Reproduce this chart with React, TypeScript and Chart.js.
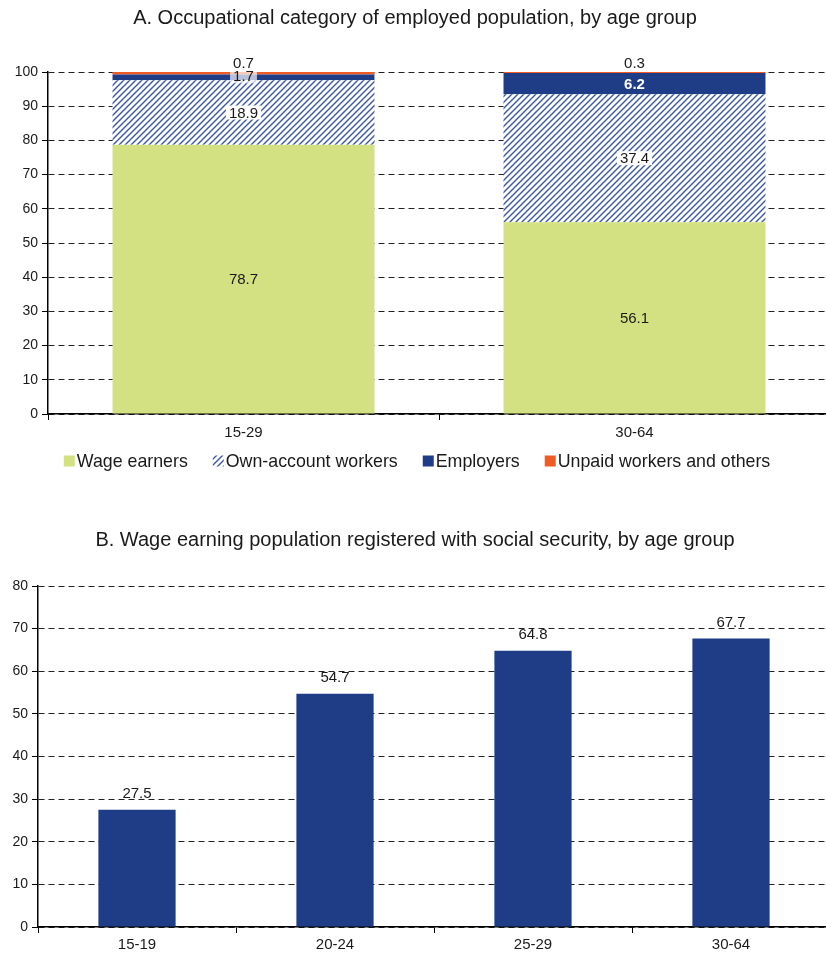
import React, { useEffect, useRef } from "react";
import { Chart, registerables } from "chart.js";
Chart.register(...registerables);

// ---------- Data ----------
const titleA = "A. Occupational category of employed population, by age group";
const ageGroupsA = ["15-29", "30-64"];
const seriesNamesA = ["Wage earners", "Own-account workers", "Employers", "Unpaid workers and others"];
const wageEarners = [78.7, 56.1];
const ownAccount = [18.9, 37.4];
const employers = [1.7, 6.2];
const unpaid = [0.7, 0.3];
const yTicksA = { min: 0, max: 100, step: 10 };

const titleB = "B. Wage earning population registered with social security, by age group";
const ageGroupsB = ["15-19", "20-24", "25-29", "30-64"];
const socialSecurity = [27.5, 54.7, 64.8, 67.7];
const yTicksB = { min: 0, max: 80, step: 10 };

// ---------- Styles ----------
const FONT = "'Liberation Sans', Arial, Helvetica, sans-serif";
const TEXT = "#1a1a1a";
const GREEN = "#d3e182";
const BLUE = "#1f3d87";
const ORANGE = "#f15a24";
const HATCH = "#3a56aa";

function makeHatch(): CanvasPattern | string {
  const c = document.createElement("canvas");
  c.width = 6;
  c.height = 6;
  const g = c.getContext("2d");
  if (!g) return HATCH;
  g.fillStyle = "#ffffff";
  g.fillRect(0, 0, 6, 6);
  g.strokeStyle = HATCH;
  g.lineWidth = 1.4;
  g.beginPath();
  g.moveTo(0, 6);
  g.lineTo(6, 0);
  g.moveTo(-1, 1);
  g.lineTo(1, -1);
  g.moveTo(5, 7);
  g.lineTo(7, 5);
  g.stroke();
  return g.createPattern(c, "repeat") || HATCH;
}

const legendPlugin = {
  id: "customLegendA",
  afterDraw(chart: any) {
    const ctx = chart.ctx as CanvasRenderingContext2D;
    ctx.save();
    ctx.font = `17.8px ${FONT}`;
    ctx.textBaseline = "middle";
    ctx.textAlign = "left";
    const box = 11;
    const gapBox = 2;
    const gapItem = 25;
    const items = chart.data.datasets.map((ds: any) => ({
      label: ds.label as string,
      color: ds.backgroundColor,
      w: ctx.measureText(ds.label).width,
    }));
    let total = 0;
    items.forEach((it: any, i: number) => {
      total += box + gapBox + it.w + (i < items.length - 1 ? gapItem : 0);
    });
    let x = 417 - total / 2;
    const y = 461;
    items.forEach((it: any) => {
      ctx.fillStyle = it.color;
      ctx.fillRect(x, y - box / 2, box, box);
      ctx.fillStyle = TEXT;
      ctx.fillText(it.label, x + box + gapBox, y + 1);
      x += box + gapBox + it.w + gapItem;
    });
    ctx.restore();
  },
};

function drawLabel(
  ctx: CanvasRenderingContext2D,
  text: string,
  x: number,
  y: number,
  color: string,
  bold: boolean,
  bg: string | null
) {
  ctx.font = `${bold ? "bold " : ""}15px ${FONT}`;
  const w = ctx.measureText(text).width;
  if (bg) {
    ctx.fillStyle = bg;
    ctx.fillRect(x - w / 2 - 3, y - 7, w + 6, 14);
  }
  ctx.fillStyle = color;
  ctx.fillText(text, x, y + 1);
}

const labelsPluginA = {
  id: "labelsA",
  afterDatasetsDraw(chart: any) {
    const ctx = chart.ctx as CanvasRenderingContext2D;
    ctx.save();
    ctx.textAlign = "center";
    ctx.textBaseline = "middle";
    chart.data.datasets.forEach((ds: any, di: number) => {
      const meta = chart.getDatasetMeta(di);
      meta.data.forEach((bar: any, i: number) => {
        const v = ds.data[i] as number;
        const { x, y, base } = bar.getProps(["x", "y", "base"], true);
        const h = Math.abs(base - y);
        const mid = (y + base) / 2;
        const t = v.toFixed(1);
        const kind = ds.labelKind;
        if (kind === "plain") drawLabel(ctx, t, x, mid, TEXT, false, null);
        else if (kind === "boxed") drawLabel(ctx, t, x, mid, TEXT, false, "#ffffff");
        else if (kind === "inside") {
          if (h > 16) drawLabel(ctx, t, x, mid, "#ffffff", true, null);
          else drawLabel(ctx, t, x, mid - 1, TEXT, false, "rgba(255,255,255,0.68)");
        } else if (kind === "above") drawLabel(ctx, t, x, Math.min(y, base) - 9, TEXT, false, null);
      });
    });
    ctx.restore();
  },
};

const labelsPluginB = {
  id: "labelsB",
  afterDatasetsDraw(chart: any) {
    const ctx = chart.ctx as CanvasRenderingContext2D;
    ctx.save();
    ctx.textAlign = "center";
    ctx.textBaseline = "middle";
    chart.data.datasets.forEach((ds: any, di: number) => {
      const meta = chart.getDatasetMeta(di);
      meta.data.forEach((bar: any, i: number) => {
        const v = ds.data[i] as number;
        const { x, y } = bar.getProps(["x", "y"], true);
        drawLabel(ctx, v.toFixed(1), x, y - 17, TEXT, false, null);
      });
    });
    ctx.restore();
  },
};

function yScale(t: { min: number; max: number; step: number }, width: number) {
  return {
    min: t.min,
    max: t.max,
    afterFit: (s: any) => {
      s.width = width;
    },
    ticks: { stepSize: t.step, color: TEXT, font: { size: 14, family: FONT }, padding: 4 },
    grid: { color: "#222222", lineWidth: 1, tickLength: 6, tickColor: "#000000", tickWidth: 1 },
    border: { display: true, color: "#000000", width: 1.5, dash: [6, 4] },
  };
}

function xScale(height: number, pad: number) {
  return {
    z: 1,
    afterFit: (s: any) => {
      s.height = height;
    },
    ticks: { color: TEXT, font: { size: 15, family: FONT }, padding: pad },
    grid: { display: true, drawOnChartArea: false, drawTicks: true, tickLength: 6, color: "#000000", offset: true },
    border: { display: true, color: "#000000", width: 1.5 },
  };
}

export default function App() {
  const refA = useRef<HTMLCanvasElement | null>(null);
  const refB = useRef<HTMLCanvasElement | null>(null);

  useEffect(() => {
    if (!refA.current || !refB.current) return;
    const hatch = makeHatch();

    const chartA = new Chart(refA.current, {
      type: "bar",
      data: {
        labels: ageGroupsA,
        datasets: [
          { label: seriesNamesA[0], data: wageEarners, backgroundColor: GREEN, labelKind: "plain" } as any,
          { label: seriesNamesA[1], data: ownAccount, backgroundColor: hatch, labelKind: "boxed" } as any,
          { label: seriesNamesA[2], data: employers, backgroundColor: BLUE, labelKind: "inside" } as any,
          { label: seriesNamesA[3], data: unpaid, backgroundColor: ORANGE, labelKind: "above" } as any,
        ],
      },
      options: {
        responsive: false,
        animation: false,
        devicePixelRatio: 1,
        layout: { padding: { top: 0, left: 0, right: 4, bottom: 0 } },
        datasets: { bar: { barPercentage: 0.67, categoryPercentage: 1, borderWidth: 0 } },
        plugins: {
          legend: { display: false },
          tooltip: { enabled: false },
          title: {
            display: true,
            text: titleA,
            color: TEXT,
            font: { size: 20, family: FONT, weight: "normal" as any, lineHeight: 1.2 },
            padding: { top: 6, bottom: 42 },
          },
        },
        scales: {
          x: { ...xScale(86, 4), stacked: true } as any,
          y: { ...yScale(yTicksA, 48), stacked: true } as any,
        },
      },
      plugins: [labelsPluginA, legendPlugin],
    });

    const chartB = new Chart(refB.current, {
      type: "bar",
      data: {
        labels: ageGroupsB,
        datasets: [
          { label: "Registered with social security", data: socialSecurity, backgroundColor: BLUE },
        ],
      },
      options: {
        responsive: false,
        animation: false,
        devicePixelRatio: 1,
        layout: { padding: { top: 0, left: 0, right: 4, bottom: 0 } },
        datasets: { bar: { barPercentage: 0.39, categoryPercentage: 1, borderWidth: 0 } },
        plugins: {
          legend: { display: false },
          tooltip: { enabled: false },
          title: {
            display: true,
            text: titleB,
            color: TEXT,
            font: { size: 20, family: FONT, weight: "normal" as any, lineHeight: 1.2 },
            padding: { top: 28, bottom: 34 },
          },
        },
        scales: {
          x: xScale(26, 3) as any,
          y: yScale(yTicksB, 38) as any,
        },
      },
      plugins: [labelsPluginB],
    });

    return () => {
      chartA.destroy();
      chartB.destroy();
    };
  }, []);

  return (
    <div
      style={{
        position: "absolute",
        left: 0,
        top: 0,
        width: 826,
        height: 953,
        overflow: "hidden",
        background: "#ffffff",
      }}
    >
      <div style={{ position: "absolute", left: 0, top: 0, width: 834, height: 500 }}>
        <canvas ref={refA} width={834} height={500} style={{ width: 834, height: 500, display: "block" }} />
      </div>
      <div style={{ position: "absolute", left: 0, top: 500, width: 834, height: 453 }}>
        <canvas ref={refB} width={834} height={453} style={{ width: 834, height: 453, display: "block" }} />
      </div>
    </div>
  );
}
